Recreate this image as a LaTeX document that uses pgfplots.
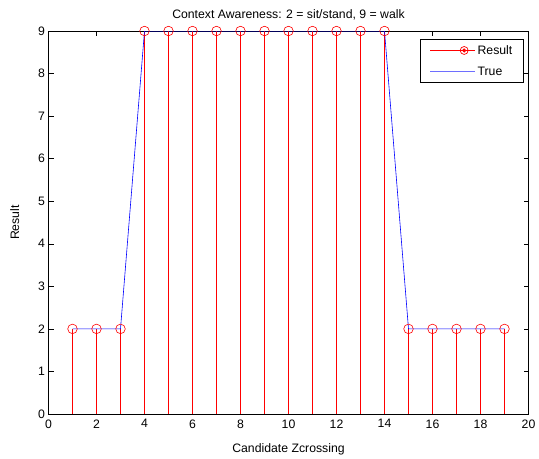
\documentclass[border=0pt]{standalone}
\usepackage{fontspec}
\setmainfont{Liberation Sans}
\usepackage{pgfplots}
\pgfplotsset{compat=1.18}
\newcommand{\chartfont}{\fontsize{12.3}{14}\selectfont}
\definecolor{legblue}{RGB}{110,110,255}
\begin{document}
\begin{tikzpicture}[x=1bp,y=1bp]
\begin{axis}[
  scale only axis,
  width=480bp, height=383bp,
  xmin=0, xmax=20, ymin=0, ymax=9,
  xtick={0,2,...,20}, ytick={0,1,...,9},
  tick align=inside,
  major tick length=5bp,
  tick style={black, line width=0.5pt},
  axis line style={black, line width=0.6pt},
  /pgf/number format/assume math mode=true,
  ticklabel style={font=\chartfont},
  xticklabel style={yshift=-2pt},
  label style={font=\chartfont},
  title style={font=\chartfont, yshift=1pt},
  title={Context Awareness: 2 = sit/stand, 9 = walk},
  xlabel={Candidate Zcrossing},
  ylabel={Result},
  xlabel style={yshift=-9pt},
  ylabel style={yshift=12pt},
  legend style={at={(rel axis cs:0.9897,0.979)}, anchor=north east,
    draw=black, line width=0.5pt, font=\chartfont,
    inner xsep=9pt, inner ysep=4pt, row sep=7pt,
    legend cell align=left},
]
\addplot[color=red, line width=1bp, ycomb, mark=o, mark size=4.8pt,
  mark options={color=red, line width=0.6pt},
  legend image code/.code={
    \draw[draw=red, line width=1.2bp] (0pt,0pt) -- (30pt,0pt);
    \draw[draw=red, line width=0.7pt, fill=white] (34pt,0pt) circle (4pt);
    \fill[fill=red] (34pt,0pt) circle (1.5pt);
    \path (0pt,0pt) -- (45pt,0pt);
  }]
coordinates {
(1,2) (2,2) (3,2) (4,9) (5,9) (6,9) (7,9) (8,9) (9,9) (10,9)
(11,9) (12,9) (13,9) (14,9) (15,2) (16,2) (17,2) (18,2) (19,2)
};
\addlegendentry{Result}
\addplot[color=blue, line width=0.6pt, no marks,
  legend image code/.code={
    \fill[fill=legblue, draw=none] (0pt,-0.8bp) rectangle (45pt,0.8bp);
  }]
coordinates {
(1,2) (2,2) (3,2) (4,9) (5,9) (6,9) (7,9) (8,9) (9,9) (10,9)
(11,9) (12,9) (13,9) (14,9) (15,2) (16,2) (17,2) (18,2) (19,2)
};
\addlegendentry{True}
\end{axis}
\path (-48.5bp,-41bp) rectangle (490.5bp,414bp);
\end{tikzpicture}
\end{document}
